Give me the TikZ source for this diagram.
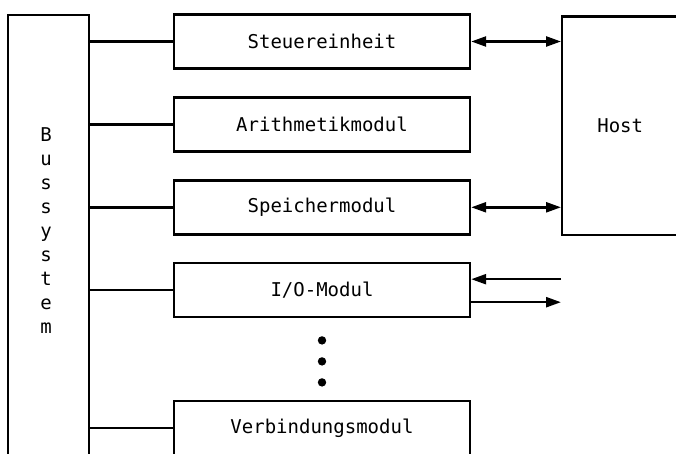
\documentclass[tikz,border=0pt]{standalone}
\usepackage{fontspec}
\setmonofont{DejaVu Sans Mono}
\usetikzlibrary{positioning,arrows.meta,calc}

\begin{document}
\begin{tikzpicture}[
  x=1pt, y=1pt, line width=2.4pt,
  font=\ttfamily\fontsize{19}{24}\selectfont, node distance=26.5pt,
  modbox/.style={draw, minimum width=296pt, minimum height=54pt, inner sep=0pt},
  hostbox/.style={draw, minimum width=116pt, minimum height=218pt, inner sep=0pt},
  busbox/.style={draw, minimum width=81pt, minimum height=480pt, inner sep=0pt},
  arr/.style={-{Triangle[length=15pt,width=10pt]}},
  biarr/.style={{Triangle[length=15pt,width=10pt]}-{Triangle[length=15pt,width=10pt]}},
]
\useasboundingbox (0,0) rectangle (676,453);
\clip (0,0) rectangle (676,453);

\node[busbox, anchor=north west] (bus) at (7,439) {};
\node[align=center, inner sep=0pt] (bustext) at (46,222)
  {B\\u\\s\\s\\y\\s\\t\\e\\m};

\node[modbox] (steuer) at (322,411.5) {Steuereinheit};
\node[modbox, below=of steuer] (arith) {Arithmetikmodul};
\node[modbox, below=of arith] (speicher) {Speichermodul};
\node[modbox, below=of speicher] (io) {I/O-Modul};
\node[modbox, below=81.5pt of io] (verb) {Verbindungsmodul};

\node[hostbox, anchor=north west] (host) at (561,437.5) {Host};

% Busanschluesse
\foreach \m in {steuer,arith,speicher,io,verb}
  \draw (bus.east |- \m.west) -- (\m.west);

\draw[biarr] (steuer.east) -- (host.west |- steuer.east);
\draw[biarr] (speicher.east) -- (host.west |- speicher.east);

% I/O nach aussen
\coordinate (ioin) at ($(io.east)+(0,11)$);
\coordinate (ioout) at ($(io.east)+(0,-12)$);
\coordinate (inext) at (host.west |- ioin);
\coordinate (outext) at (host.west |- ioout);
\draw[arr] (inext) -- (ioin);
\draw[arr] (ioout) -- (outext);

\foreach \d in {1,2,3}
  \fill ($(io.south)+(0,-1-21*\d)$) circle (4.2pt);
\end{tikzpicture}
\end{document}
